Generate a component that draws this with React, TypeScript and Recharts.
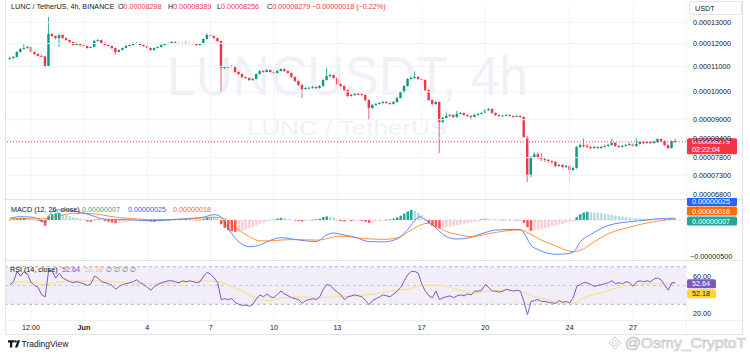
import React from 'react';
import { ComposedChart, Bar, Line, XAxis, YAxis, ReferenceLine, ReferenceArea, Cell } from 'recharts';

const FONT = '"Liberation Sans", Arial, sans-serif';
const FS = 7.2;
const TXT = '#131722';
const UP = '#089981';
const DOWN = '#f23645';

// prices in units of 1e-8 USDT
const firstOpen = 11320;
const closes = [
  11362, 11405, 11622, 11754, 11799, 11843, 11622, 11535, 11448, 11430,
  11023, 12439, 12345, 12252, 12392, 12252, 12160, 12069, 11933, 11978,
  11933, 11888, 11799, 11843, 12114, 12160, 12023, 11933, 11888, 11799,
  11622, 11710, 11799, 11888, 11933, 11978, 12023, 11933, 11888, 11799,
  11710, 11799, 11843, 11933, 11978, 12023, 12069, 12023, 11978, 12023,
  11978, 12023, 11978, 11933, 11978, 12206, 12392, 12345, 12252, 12114,
  10941, 10982, 10990, 11023, 10777, 10696, 10575, 10535, 10456, 10496,
  10696, 10817, 10777, 10858, 10777, 10736, 10817, 10899, 10817, 10736,
  10575, 10417, 10261, 10107, 10145, 10150, 10184, 10145, 10222, 10456,
  10615, 10655, 10535, 10299, 10222, 10069, 9844, 9881, 9918, 9910,
  9881, 9697, 9409, 9516, 9552, 9588, 9624, 9588, 9552, 9624,
  9770, 9993, 10222, 10496, 10535, 10575, 10496, 10456, 10069, 9697,
  9552, 9624, 8926, 9061, 9130, 9164, 9095, 9199, 9233, 9164,
  9130, 9095, 9164, 9199, 9233, 9339, 9374, 9233, 9164, 9130,
  9140, 9164, 9130, 9095, 9130, 9095, 8433, 7280, 7820, 7900,
  7800, 7760, 7732, 7703, 7674, 7559, 7588, 7531, 7559, 7446,
  7503, 8121, 8182, 8150, 8121, 8090, 8121, 8090, 8121, 8151,
  8182, 8244, 8151, 8121, 8151, 8182, 8213, 8151, 8213, 8275,
  8244, 8275, 8244, 8275, 8369, 8306, 8182, 8090, 8298, 8279,
];
const highs = [
  11420, 11450, 11660, 11800, 12020, 11900, 11870, 11650, 11560, 11500,
  11460, 13263, 12480, 12370, 12420, 12410, 12280, 12180, 12090, 12050,
  11990, 11960, 11900, 11870, 12160, 12200, 12180, 12060, 11950, 11900,
  11820, 11740, 11820, 11920, 11970, 12050, 12060, 12040, 11950, 11900,
  11820, 11820, 11870, 11960, 12000, 12060, 12120, 12090, 12040, 12050,
  12100, 12050, 12040, 12000, 12000, 12230, 12480, 12420, 12370, 12270,
  12130, 11020, 11030, 11060, 11040, 10800, 10720, 10600, 10560, 10530,
  10720, 10850, 10840, 10900, 10880, 10800, 10850, 10930, 10920, 10840,
  10760, 10600, 10440, 10280, 10180, 10190, 10220, 10200, 10260, 10490,
  10941, 10700, 10680, 10560, 10320, 10240, 10090, 9920, 9950, 9950,
  9930, 9900, 9720, 9550, 9590, 9620, 9660, 9650, 9610, 9660,
  9800, 10020, 10260, 10530, 10600, 10800, 10600, 10520, 10480, 10090,
  9720, 9660, 9640, 9100, 9250, 9200, 9190, 9300, 9270, 9250,
  9190, 9150, 9200, 9230, 9260, 9370, 9410, 9390, 9250, 9180,
  9170, 9200, 9180, 9150, 9160, 9150, 9110, 8460, 7850, 7960,
  7960, 7930, 7810, 7760, 7720, 7700, 7620, 7610, 7590, 7580,
  7540, 8150, 8230, 8401, 8210, 8150, 8160, 8140, 8150, 8190,
  8220, 8380, 8270, 8180, 8190, 8210, 8250, 8240, 8420, 8300,
  8310, 8320, 8290, 8330, 8400, 8380, 8330, 8200, 8320, 8389,
];
const lows = [
  11280, 11300, 11390, 11600, 11730, 11760, 11600, 11500, 11420, 11400,
  10941, 11000, 12300, 12200, 11840, 12220, 12130, 12040, 11900, 11910,
  11880, 11850, 11770, 11780, 11830, 12090, 12000, 11900, 11860, 11760,
  11491, 11600, 11690, 11780, 11860, 11910, 11960, 11910, 11860, 11770,
  11680, 11690, 11780, 11820, 11910, 11960, 12000, 11990, 11950, 11960,
  11950, 11960, 11950, 11900, 11880, 11950, 12180, 12300, 12220, 12080,
  9993, 10900, 10950, 10960, 10740, 10660, 10540, 10500, 10420, 10430,
  10480, 10680, 10750, 10760, 10750, 10700, 10720, 10800, 10790, 10700,
  10540, 10380, 10220, 9770, 10080, 10110, 10120, 10110, 10120, 10200,
  10430, 10560, 10500, 10260, 10180, 10030, 9810, 9820, 9850, 9880,
  9850, 9660, 8993, 9380, 9490, 9530, 9560, 9560, 9520, 9530,
  9600, 9750, 9970, 10200, 10470, 10500, 10460, 10420, 10030, 9660,
  9500, 9520, 7939, 8900, 9040, 9100, 9060, 9070, 9180, 9130,
  9100, 9000, 9080, 9140, 9180, 9210, 9300, 9200, 9130, 9100,
  9110, 9120, 9100, 9070, 9080, 9060, 8400, 7117, 7250, 7800,
  7760, 7700, 7680, 7650, 7620, 7520, 7530, 7500, 7500, 7125,
  7420, 7480, 8090, 8100, 8090, 8050, 8060, 8060, 8060, 8100,
  8130, 8160, 8120, 8090, 8100, 8130, 8160, 8120, 8130, 8190,
  8210, 8220, 8210, 8220, 8250, 8280, 8150, 8060, 8070, 8256,
];

// MACD values in units of 1e-8
const macdHist = [
  5, 10, 15, 25, 30, 25, 10, 0, -10, -30, -80,
  50, 80, 95, 100, 85, 70, 55, 40, 30, 20, 10,
  -20, -25, 5, 10, 5, -15, -25, -35, -45, -40,
  -35, -28, -20, -12, -5, 0, 5, -5, -20, -25,
  -15, -10, -5, 3, 8, 10, 10, 8, 10, 5,
  0, -5, 5, 15, 30, 40, 35, 20,
  -60, -110, -140, -155, -165, -160, -150, -130, -110, -95, -80, -60,
  -40, -20, -5, 10, 20, 30, 25, 15, 5, -5,
  -15, -20, -15, -5, 5, 10, 20, 40, 50, 45, 35,
  -5, -15, -20, -10, -15, -10, -5, -15, -25, -40, -30, -20, -15, -5,
  5, 10, 20, 35, 60, 90, 120, 139, 125, 100, 70, 5,
  -40, -80, -95, -115, -110, -100, -95, -85, -75, -65, -55, -45, -35, -25, -15,
  10, 20, 15, 10, 8, 5, 5, 3, 2, 1, 2, 1,
  -40, -100, -150, -145, -135, -125, -115, -105, -90, -80, -65, -55, -40, -30, -15,
  40, 80, 105, 115, 110, 105, 100, 95, 85, 78, 70, 62, 55, 48, 42, 36,
  30, 25, 22, 18, 14, 12, 10, 9, 8, 8, 7, 7, 7,
];
const macdLinePts = [
  [0, 25], [3, 46], [7, 35], [10, -30], [11, 60], [13, 139], [16, 139], [20, 110], [24, 50],
  [27, 10], [33, 5], [40, -10], [49, 15], [55, 40], [58, 75], [60, 40], [62, -120], [65, -302],
  [68, -371], [71, -348], [73, -302], [77, -246], [82, -278], [87, -300], [90, -208], [92, -181],
  [94, -200], [98, -240], [102, -300], [106, -305], [109, -280], [111, -230], [113, -130],
  [114, -70], [115.5, 20], [116.5, 46], [117.5, 20], [119, -30], [121, -111], [124, -232],
  [127, -264], [131, -240], [134, -190], [138, -140], [145, -129], [146, -180], [148, -350],
  [150, -410], [155, -477], [158, -470], [160, -450], [162, -302], [165, -200], [170, -75],
  [176, -25], [181, 0], [185, 22], [189, 25],
];
const signalLinePts = [
  [0, 20], [9, 15], [14, 55], [18, 95], [23, 90], [30, 40], [35, 20], [40, 5], [50, 10],
  [58, 40], [61, 20], [63, -60], [65, -140], [68, -230], [71, -290], [74, -290], [77, -278],
  [82, -272], [87, -280], [90, -260], [92, -235], [94, -225], [100, -255], [106, -270],
  [110, -250], [113, -170], [115.6, -93], [118.5, -46], [121, -90], [124, -160], [127, -200],
  [131, -230], [136, -190], [141, -150], [145, -140], [148, -200], [151, -280], [155, -360],
  [160, -440], [163, -400], [166, -300], [170, -190], [176, -100], [181, -40], [186, 0], [189, 18],
];

const rsiValues = [
  51, 54, 65, 60, 65, 62, 53, 50, 48, 40,
  38, 67, 65, 58, 63, 58, 56, 54, 53, 54,
  53, 52, 50, 52, 60, 58, 54, 53, 52, 50,
  46, 49, 51, 52, 53, 54, 56, 53, 51, 48,
  45, 49, 51, 53, 54, 55, 55, 54, 53, 55,
  54, 55, 54, 53, 54, 60, 64, 62, 58, 53,
  35, 36, 35, 36, 32, 30, 29, 29, 28, 30,
  36, 40, 38, 41, 38, 37, 41, 44, 41, 39,
  37, 36, 35, 31, 34, 35, 36, 35, 38, 46,
  51, 50, 46, 43, 40, 35, 38, 39, 40, 39,
  38, 34, 29.6, 34, 36, 38, 40, 39, 38, 41,
  44, 48, 55, 61.5, 65, 65, 63, 51, 44, 39,
  37, 44, 35, 37, 38, 39, 37, 39, 40, 39,
  41, 40, 44, 44, 45, 51, 48, 44, 44, 43,
  44, 46, 45, 44, 45, 44, 33, 19, 33, 34,
  35, 33, 33, 32, 31.5, 31, 34, 32, 33, 31.5,
  37, 49, 51, 53, 53, 51, 49, 50, 51, 52,
  53, 55, 52, 53, 52, 54, 53, 49, 54, 55,
  54, 55, 54, 57, 58, 56, 50, 45, 53, 52.64,
];
const rsiMaPts = [
  [0, 51], [3, 54], [7, 53], [10, 51], [16, 54.5], [26, 55], [35, 52], [45, 52], [54, 55],
  [59, 54], [63, 49], [69, 38.5], [73, 34], [78, 37], [82, 38], [87, 37], [92, 38], [98, 39],
  [104, 41.5], [108, 44], [113, 46], [117.5, 50.5], [122, 50.5], [127, 46], [131.5, 42],
  [136, 44], [141, 45], [145, 44], [148.5, 38.5], [152.5, 35], [156, 31.5], [160, 31.5],
  [163, 37], [167.5, 42], [172, 47], [177, 51], [182, 52], [189, 52.18],
];

const priceTicks = [6800, 7300, 7800, 8400, 9000, 10000, 11000, 12000, 13000];
const macdTicks = [-500];
const rsiTicks = [20, 60];
const dateTickIdx = [6, 21, 39, 57, 75, 93, 117, 135, 159, 177];
const dateTickLabels = ['12:00', 'Jun', '4', '7', '10', '13', '17', '20', '24', '27'];
const lastPrice = 8279;
const lastMacd = 25;
const lastSignal = 18;
const lastHist = 7;
const lastRsi = 52.64;
const lastRsiMa = 52.18;

const X_DOMAIN: [number, number] = [-1.136, 192.03];

const candleData = closes.map((c, i) => {
  const o = i === 0 ? firstOpen : closes[i - 1];
  const h = Math.max(highs[i], o, c);
  const l = Math.min(lows[i], o, c);
  return { i, open: o, close: c, high: h, low: l, range: [l, h], hist: macdHist[i], rsi: rsiValues[i] };
});
const macdData = macdLinePts.map(([i, v]) => ({ i, v }));
const signalData = signalLinePts.map(([i, v]) => ({ i, v }));
const rsiMaData = rsiMaPts.map(([i, v]) => ({ i, v }));

const histColor = (idx: number) => {
  const v = macdHist[idx];
  const p = idx > 0 ? macdHist[idx - 1] : 0;
  if (v >= 0) return v >= p ? '#26a69a' : '#b2dfdb';
  return v <= p ? '#ff5252' : '#ffcdd2';
};

const fmt8 = (v: number) => (v < 0 ? '\u2212' : '') + (Math.abs(v) / 1e8).toFixed(8);

const Candle = (props: any) => {
  const { x, y, width, height, payload } = props;
  if (!payload || x == null || y == null) return null;
  const { open, close, high, low } = payload;
  const top = Math.min(y, y + height);
  const h = Math.abs(height);
  const lh = Math.log(high);
  const ll = Math.log(low);
  const span = lh - ll;
  const yOf = (v: number) => (span > 0 ? top + (h * (lh - Math.log(v))) / span : top);
  const color = close >= open ? UP : DOWN;
  const cx = x + width / 2;
  const y1 = yOf(Math.max(open, close));
  const y2 = yOf(Math.min(open, close));
  const bw = 2.4;
  return (
    <g>
      <line x1={cx} x2={cx} y1={top} y2={top + h} stroke={color} strokeWidth={0.8} />
      <rect x={cx - bw / 2} y={y1} width={bw} height={Math.max(y2 - y1, 0.8)} fill={color} />
    </g>
  );
};

const HistBar = (props: any) => {
  const { x, y, width, height, fill } = props;
  if (x == null || y == null) return null;
  const top = Math.min(y, y + height);
  const h = Math.abs(height);
  const cx = x + width / 2;
  return <rect x={cx - 1.25} y={top} width={2.5} height={Math.max(h, 0.6)} fill={fill} />;
};

const PriceTag = (props: any) => {
  const vb = props.viewBox || {};
  const x = (vb.x ?? 6) + (vb.width ?? 680);
  const y = vb.y ?? 0;
  return (
    <g>
      <rect x={x + 1} y={y - 3.7} width={50} height={16} rx={1.5} fill={DOWN} />
      <text x={x + 6} y={y + 2.6} fontSize={FS} fill="#fff" fontFamily={FONT}>{fmt8(lastPrice)}</text>
      <text x={x + 6} y={y + 10.6} fontSize={FS} fill="#fff" fontFamily={FONT}>02:22:04</text>
    </g>
  );
};

const ValueTag = (props: any) => {
  const { viewBox, text, bg, fg = '#fff', dy = 0, w = 50 } = props;
  const x = (viewBox?.x ?? 6) + (viewBox?.width ?? 680);
  const y = (viewBox?.y ?? 0) + dy;
  return (
    <g>
      <rect x={x + 1} y={y - 4.5} width={w} height={9} rx={1.5} fill={bg} />
      <text x={x + 6} y={y + 2.6} fontSize={FS} fill={fg} fontFamily={FONT}>{text}</text>
    </g>
  );
};

const DateTick = (props: any) => {
  const { x, y, payload } = props;
  const k = dateTickIdx.indexOf(payload.value);
  const label = k >= 0 ? dateTickLabels[k] : '';
  return (
    <text x={x} y={y + 5} textAnchor="middle" fontSize={FS} fill={TXT} fontFamily={FONT} fontWeight={label === 'Jun' ? 700 : 400}>
      {label}
    </text>
  );
};

const tickStyle = { fontSize: FS, fill: TXT, fontFamily: FONT };
const gridColor = '#f0f3fa';

export default function App() {
  const abs = (top: number): React.CSSProperties => ({ position: 'absolute', left: 0, top });
  return (
    <div style={{ position: 'absolute', left: 0, top: 0, width: 750, height: 357, background: '#fff', overflow: 'hidden', fontFamily: FONT }}>
      {/* background layer: frame, watermark */}
      <svg width={750} height={357} style={abs(0)}>
        <line x1={5.5} y1={0} x2={5.5} y2={334.5} stroke="#e0e3eb" />
        <line x1={742.5} y1={0} x2={742.5} y2={334.5} stroke="#e0e3eb" />
        <line x1={5.5} y1={334.5} x2={742.5} y2={334.5} stroke="#e0e3eb" />
        <line x1={686.5} y1={0} x2={686.5} y2={334.5} stroke="#eef0f4" />
        <line x1={5.5} y1={199.5} x2={742.5} y2={199.5} stroke="#e0e3eb" />
        <line x1={5.5} y1={260.5} x2={742.5} y2={260.5} stroke="#e0e3eb" />
        <line x1={5.5} y1={320.5} x2={742.5} y2={320.5} stroke="#eef0f4" />
        <text x={167} y={95} fontSize={56} fill="#eff1f7" fontFamily={FONT} textLength={361} lengthAdjust="spacingAndGlyphs">LUNCUSDT, 4h</text>
        <text x={247} y={135} fontSize={21} fill="#eff1f7" fontFamily={FONT} textLength={200} lengthAdjust="spacingAndGlyphs">LUNC / TetherUS</text>
      </svg>

      {/* price pane */}
      <div style={abs(0)}>
        <ComposedChart width={750} height={201} data={candleData} margin={{ top: 4, right: 8, bottom: 2, left: 6 }}>
          <XAxis type="number" dataKey="i" domain={X_DOMAIN} allowDataOverflow hide />
          <YAxis
            orientation="right"
            width={56}
            scale="log"
            domain={[6673, 13930]}
            allowDataOverflow
            ticks={priceTicks}
            tickFormatter={fmt8}
            axisLine={false}
            tickLine={false}
            tickSize={0}
            tickMargin={7}
            tick={tickStyle}
          />
          {priceTicks.map((t) => (
            <ReferenceLine key={'p' + t} y={t} stroke={gridColor} />
          ))}
          {dateTickIdx.map((t) => (
            <ReferenceLine key={'d' + t} x={t} stroke={gridColor} />
          ))}
          <Bar dataKey="range" barSize={3} shape={<Candle />} isAnimationActive={false} />
          <ReferenceLine y={lastPrice} stroke={DOWN} strokeDasharray="1 2" label={<PriceTag />} />
        </ComposedChart>
      </div>

      {/* MACD pane */}
      <div style={abs(198)}>
        <ComposedChart width={750} height={62} data={candleData} margin={{ top: 2, right: 8, bottom: 0, left: 6 }}>
          <XAxis type="number" dataKey="i" domain={X_DOMAIN} allowDataOverflow hide />
          <YAxis
            orientation="right"
            width={56}
            domain={[-556, 278]}
            allowDataOverflow
            ticks={macdTicks}
            tickFormatter={fmt8}
            axisLine={false}
            tickLine={false}
            tickSize={0}
            tickMargin={4}
            tick={tickStyle}
          />
          {dateTickIdx.map((t) => (
            <ReferenceLine key={'d' + t} x={t} stroke={gridColor} />
          ))}
          <ReferenceLine y={0} stroke="#b2b5be" strokeDasharray="2 3" strokeOpacity={0.6} />
          <Bar dataKey="hist" barSize={3} shape={<HistBar />} isAnimationActive={false}>
            {candleData.map((d, idx) => (
              <Cell key={idx} fill={histColor(idx)} />
            ))}
          </Bar>
          <Line data={macdData} dataKey="v" type="monotone" stroke="#2962ff" strokeOpacity={0.75} strokeWidth={1} dot={false} isAnimationActive={false} />
          <Line data={signalData} dataKey="v" type="monotone" stroke="#ff6d00" strokeOpacity={0.75} strokeWidth={1} dot={false} isAnimationActive={false} />
          <ReferenceLine y={lastMacd} stroke="none" label={<ValueTag text={fmt8(lastMacd)} bg="#2962ff" dy={-16.7} />} />
          <ReferenceLine y={lastSignal} stroke="none" label={<ValueTag text={fmt8(lastSignal)} bg="#ff6d00" dy={-7.7} />} />
          <ReferenceLine y={lastHist} stroke="none" label={<ValueTag text={fmt8(lastHist)} bg="#26a69a" dy={1.5} />} />
        </ComposedChart>
      </div>

      {/* RSI pane */}
      <div style={abs(259)}>
        <ComposedChart width={750} height={77} data={candleData} margin={{ top: 2, right: 8, bottom: 0, left: 6 }}>
          <XAxis
            type="number"
            dataKey="i"
            domain={X_DOMAIN}
            allowDataOverflow
            ticks={dateTickIdx}
            interval={0}
            height={16}
            axisLine={false}
            tickLine={false}
            tickSize={0}
            tickMargin={5}
            tick={<DateTick />}
          />
          <YAxis
            orientation="right"
            width={56}
            domain={[13.3, 76.06]}
            allowDataOverflow
            ticks={rsiTicks}
            tickFormatter={(v: number) => v.toFixed(2)}
            axisLine={false}
            tickLine={false}
            tickSize={0}
            tickMargin={7}
            tick={tickStyle}
          />
          {dateTickIdx.map((t) => (
            <ReferenceLine key={'d' + t} x={t} stroke={gridColor} />
          ))}
          <ReferenceArea y1={30} y2={70} fill="#7e57c2" fillOpacity={0.1} stroke="none" />
          <ReferenceLine y={70} stroke="#787b86" strokeOpacity={0.55} strokeDasharray="3 3" />
          <ReferenceLine y={50} stroke="#787b86" strokeOpacity={0.35} strokeDasharray="3 3" />
          <ReferenceLine y={30} stroke="#787b86" strokeOpacity={0.55} strokeDasharray="3 3" />
          <Line data={rsiMaData} dataKey="v" type="monotone" stroke="#f7e391" strokeWidth={1.3} dot={false} isAnimationActive={false} />
          <Line dataKey="rsi" type="linear" stroke="#7e57c2" strokeWidth={1} dot={false} isAnimationActive={false} />
          <ReferenceLine y={lastRsi} stroke="none" label={<ValueTag text={lastRsi.toFixed(2)} bg="#7e57c2" dy={0.8} w={29} />} />
          <ReferenceLine y={lastRsiMa} stroke="none" label={<ValueTag text={lastRsiMa.toFixed(2)} bg="#fdd835" fg={TXT} dy={10.2} w={29} />} />
        </ComposedChart>
      </div>

      {/* foreground texts */}
      <svg width={750} height={357} style={{ ...abs(0), pointerEvents: 'none' }}>
        <g fontFamily={FONT} fontSize={FS}>
          <text x={11} y={9.3} fill={TXT}>LUNC / TetherUS, 4h, BINANCE</text>
          <text x={118} y={9.3}><tspan fill={TXT}>O</tspan><tspan fill={DOWN}>0.00008298</tspan></text>
          <text x={168} y={9.3}><tspan fill={TXT}>H</tspan><tspan fill={DOWN}>0.00008389</tspan></text>
          <text x={217} y={9.3}><tspan fill={TXT}>L</tspan><tspan fill={DOWN}>0.00008256</tspan></text>
          <text x={267} y={9.3}><tspan fill={TXT}>C</tspan><tspan fill={DOWN}>0.00008279</tspan></text>
          <text x={312} y={9.3} fill={DOWN}>{'\u22120.00000018 (\u22120.22%)'}</text>

          <rect x={689.5} y={1.5} width={52} height={13} rx={2} fill="#fff" stroke="#e0e3eb" />
          <text x={695} y={10.6} fill={TXT}>USDT</text>

          <text x={11} y={211.5} fill={TXT}>MACD (12, 26, close)</text>
          <text x={82} y={211.5} fill="#22ab94">0.00000007</text>
          <text x={128} y={211.5} fill="#2962ff">0.00000025</text>
          <text x={173} y={211.5} fill="#ff6d00">0.00000018</text>

          <text x={10} y={272} fill={TXT}>RSI (14, close)</text>
          <text x={62} y={272} fill="#7e57c2">52.64</text>
          <text x={85} y={272} fill="#e8cf5a">52.18</text>
          <text x={106} y={272} fill="#787b86">{'\u2205  \u2205  \u2205  \u2205'}</text>
        </g>
        <g>
          <path d="M8 340.2h6.2v2.3h-2v5h-2.3v-5H8z" fill={TXT} />
          <circle cx={15.6} cy={341.4} r={1.2} fill={TXT} />
          <path d="M17.6 340.2h2.5l-2.6 7.3h-2.5z" fill={TXT} />
          <text x={21.5} y={347} fontSize={8.5} fill={TXT} fontFamily={FONT}>TradingView</text>
        </g>
        <g>
          <path d="M615 337l6 6-6 6-6-6z" fill="none" stroke="#c4c4c4" strokeWidth={0.9} />
          <path d="M615 340l3 3-3 3-3-3z" fill="none" stroke="#c4c4c4" strokeWidth={0.7} />
          <text x={625} y={348} fontSize={14} fill="#f7f7f7" stroke="#c2c2c2" strokeWidth={0.6} fontFamily={FONT} textLength={121} lengthAdjust="spacingAndGlyphs">@Osmy_CryptoT</text>
        </g>
      </svg>
    </div>
  );
}
